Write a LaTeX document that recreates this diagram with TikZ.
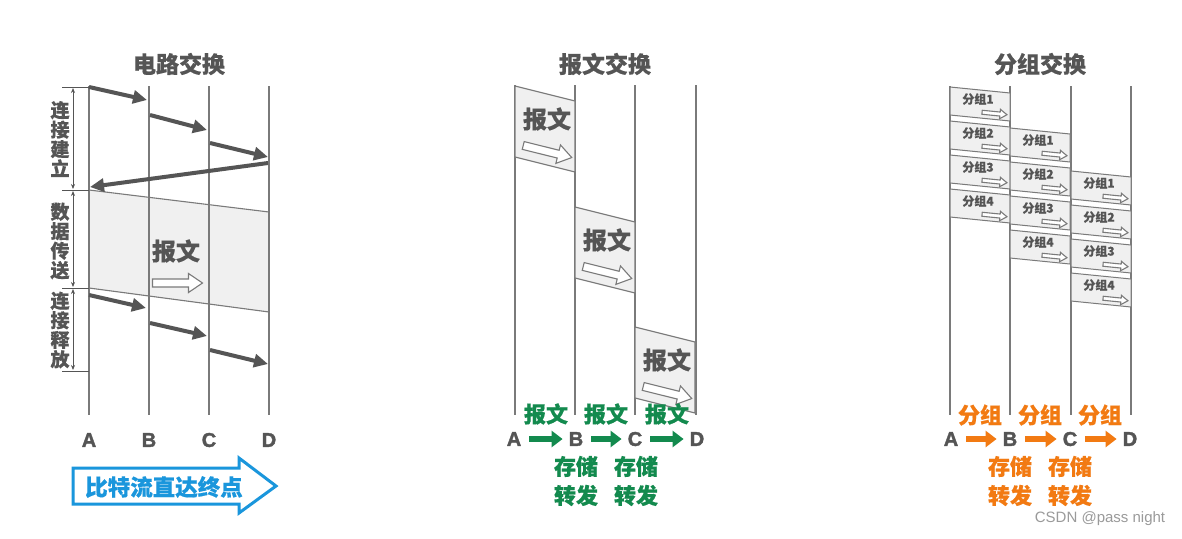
\documentclass[tikz,border=0pt]{standalone}
\usepackage{fontspec}
\setmainfont{Noto Sans CJK SC}[BoldFeatures={FakeBold=0.5}]
\newfontfamily\lat{Liberation Sans}[BoldFeatures={FakeBold=1.8}]
\usetikzlibrary{arrows.meta}
\definecolor{dk}{HTML}{555555}
\definecolor{ln}{HTML}{7A7A7A}
\definecolor{bandf}{HTML}{F0F0F0}
\definecolor{grn}{HTML}{138A4E}
\definecolor{org}{HTML}{F27A12}
\definecolor{blu}{HTML}{1A96DC}
\definecolor{wm}{HTML}{9A9A9A}
\tikzset{
  vline/.style={draw=ln, line width=1.1pt},
  title/.style={font=\fontsize{23}{26}\selectfont\bfseries, text=dk, inner sep=0pt},
  vlab/.style={font=\fontsize{19}{19.5}\selectfont\bfseries, text=dk, align=center, inner sep=0pt},
  bigtxt/.style={font=\fontsize{24}{26}\selectfont\bfseries, text=dk, inner sep=0pt},
  letter/.style={font=\lat\fontsize{20}{22}\selectfont\bfseries, text=dk, inner sep=0pt},
  darr/.style={draw=dk, line width=4pt, -{Triangle[length=14pt,width=13pt]}},
  dimarr/.style={draw=dk, line width=0.8pt, {Stealth[length=5pt,width=4pt]}-{Stealth[length=5pt,width=4pt]}},
  tick/.style={draw=dk, line width=0.9pt},
  band/.style={draw=ln, line width=1.1pt, fill=bandf},
  harrow/.style={draw=ln, line width=1.1pt, fill=white},
  harr/.pic={\draw[harrow] (-25,-4) -- (11,-4) -- (11,-9.5) -- (25,0) -- (11,9.5) -- (11,4) -- (-25,4) -- cycle;},
  pktbox/.style={draw=ln, line width=1pt, fill=bandf},
  pkttxt/.style={font=\fontsize{12}{13}\selectfont\bfseries, text=dk, inner sep=0pt},
  gtxt/.style={font=\fontsize{22}{29}\selectfont\bfseries, text=grn, inner sep=0pt, align=center},
  otxt/.style={font=\fontsize{22}{29}\selectfont\bfseries, text=org, inner sep=0pt, align=center},
  garr/.style={draw=grn, line width=6pt, -{Triangle[length=11pt,width=16pt]}, shorten <=8pt, shorten >=6pt},
  oarr/.style={draw=org, line width=6pt, -{Triangle[length=11pt,width=16pt]}, shorten <=8pt, shorten >=6pt},
  bluebox/.style={draw=blu, line width=3pt, fill=white, line join=miter},
  bluetxt/.style={font=\fontsize{22.5}{24}\selectfont\bfseries, text=blu, inner sep=0pt},
}
\newcommand\msgbox[3]{%
  \draw[band] (#1,#2) -- ++(60,15) -- ++(0,71) -- ++(-60,-15) -- cycle;
  \node[bigtxt] (#3) at (#1+32,#2+33) {报文};
  \pic[rotate=-14] at (#1+32.5,#2+65.5) {harr};
}
\newcommand\pkt[4]{%
  \draw[pktbox] (#1,#2) -- ++(60,6) -- ++(0,28) -- ++(-60,-6) -- cycle;
  \node[pkttxt] (#4) at (#1+28,#2+12) {分组#3};
  \pic[rotate=-5.7, scale=0.5] at (#1+44.5,#2+26.5) {harr};
}
\begin{document}
\begin{tikzpicture}[x=1pt,y=-1pt]
\fill[white] (0,0) rectangle (1182,538);
\useasboundingbox (0,0) rectangle (1182,538);

% ================= circuit switching =================
\node[title] (T1) at (179,64) {电路交换};
\draw[band] (89,190) -- (269,212) -- (269,312) -- (89,288) -- cycle;
\foreach \x/\n in {89/A,149/B,209/C,269/D}{
  \draw[vline] (\x,86) -- (\x,415);
}
\node[letter] (LA) at (89,440) {A};
\node[letter] (LB) at (149,440) {B};
\node[letter] (LC) at (209,440) {C};
\node[letter] (LD) at (269,440) {D};

\coordinate (s1) at (89,87);   \coordinate (e1) at (147,100);
\coordinate (s2) at (150,115); \coordinate (e2) at (207,130);
\coordinate (s3) at (210,143); \coordinate (e3) at (268,157);
\coordinate (s4) at (268,163); \coordinate (e4) at (90,187);
\draw[darr] (s1) -- (e1);
\draw[darr] (s2) -- (e2);
\draw[darr] (s3) -- (e3);
\draw[darr] (s4) -- (e4);
\coordinate (r1) at (89,295);  \coordinate (f1) at (146,308);
\coordinate (r2) at (150,323); \coordinate (f2) at (207,336);
\coordinate (r3) at (210,350); \coordinate (f3) at (268,364);
\draw[darr] (r1) -- (f1);
\draw[darr] (r2) -- (f2);
\draw[darr] (r3) -- (f3);

\node[bigtxt] (bt) at (176,251) {报文};
\pic at (177.5,283) {harr};

% left dimension marks
\coordinate (k1) at (62,87);  \coordinate (k1e) at (89,87);
\coordinate (k2) at (62,190); \coordinate (k2e) at (89,190);
\coordinate (k3) at (62,288); \coordinate (k3e) at (89,288);
\coordinate (k4) at (62,371); \coordinate (k4e) at (89,371);
\draw[tick] (k1) -- (k1e);
\draw[tick] (k2) -- (k2e);
\draw[tick] (k3) -- (k3e);
\draw[tick] (k4) -- (k4e);
\coordinate (d1) at (73,88);  \coordinate (d1e) at (73,189);
\coordinate (d2) at (73,191); \coordinate (d2e) at (73,287);
\coordinate (d3) at (73,289); \coordinate (d3e) at (73,370);
\draw[dimarr] (d1) -- (d1e);
\draw[dimarr] (d2) -- (d2e);
\draw[dimarr] (d3) -- (d3e);
\node[vlab] (v1) at (60,139) {连\\接\\建\\立};
\node[vlab] (v2) at (60,241) {数\\据\\传\\送};
\node[vlab] (v3) at (60,330) {连\\接\\释\\放};

% blue arrow
\draw[bluebox] (73,468) -- (239,468) -- (239,458) -- (276,486) -- (239,513) -- (239,504) -- (73,504) -- cycle;
\node[bluetxt] (bl) at (164,487) {比特流直达终点};

% ================= message switching =================
\node[title] (T2) at (605,64) {报文交换};
\foreach \x in {515,575,635,696}{
  \draw[vline] (\x,85) -- (\x,415);
}
\msgbox{515}{86}{m1}
\msgbox{575}{207}{m2}
\msgbox{635}{327}{m3}

\node[gtxt] (g1) at (546,414) {报文};
\node[gtxt] (g2) at (606,414) {报文};
\node[gtxt] (g3) at (667,414) {报文};
\node[letter] (MA) at (514,439) {A};
\node[letter] (MB) at (576,439) {B};
\node[letter] (MC) at (635,439) {C};
\node[letter] (MD) at (697,439) {D};
\draw[garr] (MA) -- (MB);
\draw[garr] (MB) -- (MC);
\draw[garr] (MC) -- (MD);
\node[gtxt] (gs1) at (576,481) {存储\\转发};
\node[gtxt] (gs2) at (636,481) {存储\\转发};

% ================= packet switching =================
\node[title] (T3) at (1040,64) {分组交换};
\foreach \x in {950,1010,1071,1131}{
  \draw[vline] (\x,86) -- (\x,415);
}
\pkt{950}{87}{1}{pa1}
\pkt{950}{121}{2}{pa2}
\pkt{950}{155}{3}{pa3}
\pkt{950}{189}{4}{pa4}
\pkt{1010}{128}{1}{pb1}
\pkt{1010}{162}{2}{pb2}
\pkt{1010}{196}{3}{pb3}
\pkt{1010}{230}{4}{pb4}
\pkt{1071}{171}{1}{pc1}
\pkt{1071}{205}{2}{pc2}
\pkt{1071}{239}{3}{pc3}
\pkt{1071}{273}{4}{pc4}

\node[otxt] (o1) at (980,415) {分组};
\node[otxt] (o2) at (1040,415) {分组};
\node[otxt] (o3) at (1100,415) {分组};
\node[letter] (PA) at (951,439) {A};
\node[letter] (PB) at (1010,439) {B};
\node[letter] (PC) at (1070,439) {C};
\node[letter] (PD) at (1130,439) {D};
\draw[oarr] (PA) -- (PB);
\draw[oarr] (PB) -- (PC);
\draw[oarr] (PC) -- (PD);
\node[otxt] (os1) at (1010,481) {存储\\转发};
\node[otxt] (os2) at (1070,481) {存储\\转发};

\node[font=\lat\fontsize{15}{16}\selectfont, text=wm, inner sep=0pt] (wmk) at (1100,519) {CSDN @pass night};
\end{tikzpicture}
\end{document}
